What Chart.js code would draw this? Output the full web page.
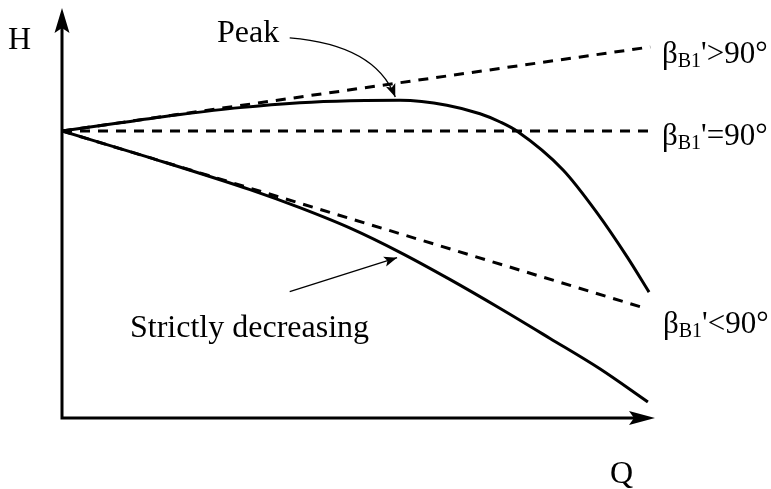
<!DOCTYPE html>
<html>
<head>
<meta charset="utf-8">
<script src="https://cdn.jsdelivr.net/npm/chart.js@4/dist/chart.umd.min.js"></script>
<style>
  body { margin: 0; background: #fff; }
</style>
</head>
<body>
<canvas id="myChart" width="771" height="489"></canvas>
<script>
// pump head curves, Q on x, H on y (arbitrary units)
var forwardQ = [0, 9.92];
var forwardH = [7.0, 9.05];
var radialQ = [0, 9.92];
var radialH = [7.0, 7.0];
var backwardQ = [0, 9.83];
var backwardH = [7.0, 2.68];

var peakQ = [0, 0.98, 1.99, 3.0, 4.01, 4.86, 5.7, 6.49, 7.05, 7.39, 7.67, 8.45, 9.02, 9.53, 9.9];
var peakH = [7.0, 7.2, 7.4, 7.57, 7.69, 7.74, 7.75, 7.63, 7.42, 7.22, 7.0, 6.05, 5.01, 3.93, 3.07];

var fallQ = [0, 1.48, 3.17, 4.01, 4.86, 5.7, 6.54, 7.39, 8.23, 9.07, 9.88];
var fallH = [7.0, 6.35, 5.57, 5.13, 4.63, 4.04, 3.38, 2.67, 1.94, 1.2, 0.39];

function pts(xs, ys) {
	var out = [];
	xs.forEach(function(x, i){ out.push({x: x, y: ys[i]}); });
	return out;
}

var serif = '"Liberation Serif", "Times New Roman", serif';

function arrowHead(ctx, x, y, ang, len, half, notch) {
	ctx.save();
	ctx.translate(x, y);
	ctx.rotate(ang);
	ctx.beginPath();
	ctx.moveTo(0, 0);
	ctx.lineTo(-len, -half);
	ctx.lineTo(-len + notch, 0);
	ctx.lineTo(-len, half);
	ctx.closePath();
	ctx.fill();
	ctx.restore();
}

function betaLabel(ctx, x, y, rest) {
	ctx.font = '31px ' + serif;
	ctx.fillText('\u03b2', x, y);
	var w = ctx.measureText('\u03b2').width;
	ctx.font = '20px ' + serif;
	ctx.fillText('B1', x + w, y + 4);
	var w2 = ctx.measureText('B1').width;
	ctx.font = '31px ' + serif;
	ctx.fillText(rest, x + w + w2, y);
}

var decor = {
	id: 'decor',
	afterDraw: function(chart) {
		var ctx = chart.ctx;
		var a = chart.chartArea;
		var sx = chart.scales.x, sy = chart.scales.y;
		function px(q) { return sx.getPixelForValue(q); }
		function py(h) { return sy.getPixelForValue(h); }
		ctx.save();
		ctx.fillStyle = '#000';
		ctx.strokeStyle = '#000';

		// axes
		ctx.lineWidth = 3;
		ctx.lineCap = 'butt';
		ctx.lineJoin = 'miter';
		ctx.beginPath();
		ctx.moveTo(a.left, a.top + 10);
		ctx.lineTo(a.left, a.bottom);
		ctx.lineTo(a.right - 10, a.bottom);
		ctx.stroke();
		arrowHead(ctx, a.left, a.top, -Math.PI / 2, 25, 7.5, 5);
		arrowHead(ctx, a.right, a.bottom, 0, 26, 7, 5);

		// Peak arrow (curved)
		ctx.lineWidth = 1.3;
		var p0x = px(3.84), p0y = py(9.27);
		var cx = px(5.28), cy = py(9.1);
		var p2x = px(5.62), p2y = py(7.83);
		ctx.beginPath();
		ctx.moveTo(p0x, p0y);
		ctx.quadraticCurveTo(cx, cy, p2x, p2y);
		ctx.stroke();
		arrowHead(ctx, p2x, p2y, Math.atan2(p2y - cy, p2x - cx), 13, 5, 3);

		// Strictly decreasing arrow
		var s0x = px(3.84), s0y = py(3.08);
		var s1x = px(5.65), s1y = py(3.91);
		ctx.beginPath();
		ctx.moveTo(s0x, s0y);
		ctx.lineTo(s1x, s1y);
		ctx.stroke();
		arrowHead(ctx, s1x, s1y, Math.atan2(s1y - s0y, s1x - s0x), 13, 5, 3);

		// text
		ctx.textBaseline = 'alphabetic';
		ctx.textAlign = 'left';
		ctx.font = '32px ' + serif;
		ctx.fillText('H', 8, 49);
		ctx.fillText('Q', 610, 483);
		ctx.fillText('Peak', 217, 42);
		ctx.fillText('Strictly decreasing', 130, 337);
		betaLabel(ctx, 662, 63, "'>90\u00b0");
		betaLabel(ctx, 662, 145, "'=90\u00b0");
		betaLabel(ctx, 663, 333, "'<90\u00b0");
		ctx.restore();
	}
};

function dashed(data) {
	return {
		data: data,
		showLine: true,
		borderColor: '#000',
		borderWidth: 3,
		borderDash: [10, 8],
		pointRadius: 0,
		fill: false
	};
}
function solid(data) {
	return {
		data: data,
		showLine: true,
		borderColor: '#000',
		borderWidth: 3,
		pointRadius: 0,
		cubicInterpolationMode: 'monotone',
		fill: false
	};
}

var ctx = document.getElementById("myChart").getContext("2d");
var myChart = new Chart(ctx, {
	type: 'scatter',
	data: {
		datasets: [
			dashed(pts(forwardQ, forwardH)),
			dashed(pts(radialQ, radialH)),
			dashed(pts(backwardQ, backwardH)),
			solid(pts(peakQ, peakH)),
			solid(pts(fallQ, fallH))
		]
	},
	options: {
		responsive: false,
		animation: false,
		layout: { padding: { left: 62, right: 116, top: 8, bottom: 71 } },
		plugins: { legend: { display: false }, tooltip: { enabled: false } },
		scales: {
			x: { type: 'linear', min: 0, max: 10, display: false },
			y: { type: 'linear', min: 0, max: 10, display: false }
		}
	},
	plugins: [decor]
});
</script>
</body>
</html>
